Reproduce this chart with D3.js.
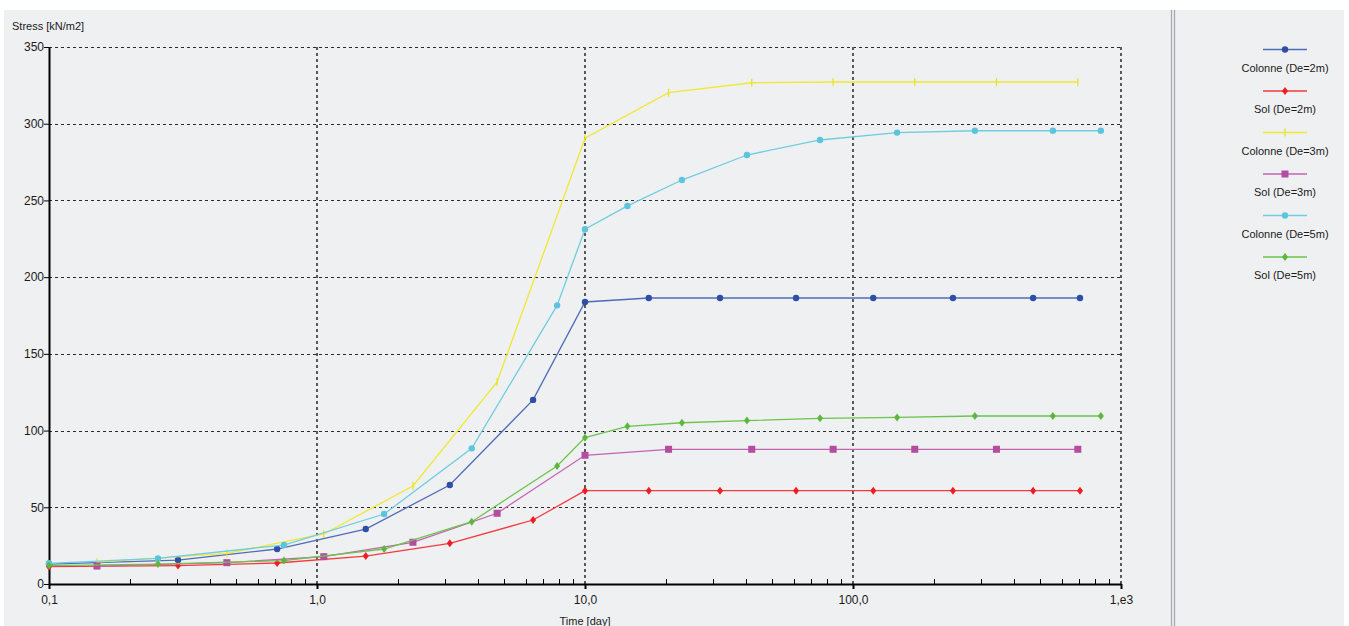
<!DOCTYPE html>
<html>
<head>
<meta charset="utf-8">
<script src="https://cdn.jsdelivr.net/npm/d3@7"></script>
<style>
  html, body { margin: 0; padding: 0; background: #ffffff; overflow: hidden; }
  svg { display: block; }
  text { font-family: "Liberation Sans", Arial, sans-serif; }
</style>
</head>
<body>
<svg id="chart" width="1349" height="626"></svg>
<script>
// Time samples (days) and stress values (kN/m2) for each curve
const timeDe2 = [0.1, 0.303, 0.71, 1.52, 3.13, 6.4, 10, 17.3, 31.9, 61.3, 119, 236, 470, 703];
const colonneDe2 = [13, 15.6, 22.8, 35.8, 64.5, 120, 183.8, 186.4, 186.4, 186.4, 186.4, 186.4, 186.4, 186.4];
const solDe2 = [11.3, 12, 13.7, 18.2, 26.5, 41.7, 60.8, 60.8, 60.8, 60.8, 60.8, 60.8, 60.8, 60.8];

const timeDe3 = [0.151, 0.461, 1.06, 2.28, 4.7, 10, 20.5, 41.9, 84.3, 170, 343, 690];
const colonneDe3 = [14.3, 20, 32.6, 63.9, 131.7, 290.5, 320.2, 326.7, 327.2, 327.2, 327.2, 327.2];
const solDe3 = [11.7, 13.9, 17.8, 27.2, 46.1, 83.9, 87.8, 87.8, 87.8, 87.8, 87.8, 87.8];

const timeDe5 = [0.1, 0.255, 0.753, 1.78, 3.78, 7.87, 10, 14.4, 23.0, 40.2, 75.3, 146, 285, 557, 841];
const colonneDe5 = [13.5, 16.7, 25.4, 45.6, 88.4, 181.6, 231.2, 246.4, 263.3, 279.6, 289.4, 294.2, 295.4, 295.4, 295.4];
const solDe5 = [12, 13, 15.3, 22.8, 40.6, 76.9, 95.4, 102.8, 105.1, 106.5, 108, 108.6, 109.5, 109.5, 109.5];

const xTickValues = [0.1, 1, 10, 100, 1000];
const xTickLabels = ["0,1", "1,0", "10,0", "100,0", "1,e3"];
const yTickValues = [0, 50, 100, 150, 200, 250, 300, 350];

const series = [
  { name: "Colonne (De=2m)", t: timeDe2, v: colonneDe2, color: "#2f4fa6", line: "#4f6cb8", marker: "circle" },
  { name: "Sol (De=2m)",     t: timeDe2, v: solDe2,     color: "#f01c24", line: "#f43a3e", marker: "diamond" },
  { name: "Colonne (De=3m)", t: timeDe3, v: colonneDe3, color: "#e8e020", line: "#f0e832", marker: "plus" },
  { name: "Sol (De=3m)",     t: timeDe3, v: solDe3,     color: "#b44ca0", line: "#c464b0", marker: "square" },
  { name: "Colonne (De=5m)", t: timeDe5, v: colonneDe5, color: "#5cc4dc", line: "#70cce0", marker: "circle" },
  { name: "Sol (De=5m)",     t: timeDe5, v: solDe5,     color: "#5cb83c", line: "#6cc44c", marker: "diamond" }
];

const svg = d3.select("#chart");
const W = 1349, H = 626;

// panel backgrounds
svg.append("rect").attr("x", 0).attr("y", 0).attr("width", W).attr("height", H).attr("fill", "#ffffff");
svg.append("rect").attr("x", 4).attr("y", 10).attr("width", 1340).attr("height", H - 10).attr("fill", "#eff0f2");
// splitter between plot and legend
svg.append("rect").attr("x", 1170).attr("y", 10).attr("width", 6).attr("height", H - 10).attr("fill", "#e4e5e8");
svg.append("line").attr("x1", 1171.5).attr("x2", 1171.5).attr("y1", 10).attr("y2", H).attr("stroke", "#a8a9ac").attr("stroke-width", 1);
svg.append("line").attr("x1", 1174.5).attr("x2", 1174.5).attr("y1", 10).attr("y2", H).attr("stroke", "#a8a9ac").attr("stroke-width", 1);

const plotLeft = 49, plotRight = 1121, plotTop = 47, plotBottom = 584;
const x = d3.scaleLog().domain([0.1, 1000]).range([plotLeft, plotRight]);
const y = d3.scaleLinear().domain([0, 350]).range([plotBottom, plotTop]);

// horizontal grid
svg.append("g").selectAll("line").data(yTickValues.filter(d => d > 0)).join("line")
  .attr("x1", plotLeft).attr("x2", plotRight)
  .attr("y1", d => Math.round(y(d)) + 0.5).attr("y2", d => Math.round(y(d)) + 0.5)
  .attr("stroke", "#2a2a2a").attr("stroke-width", 1).attr("stroke-dasharray", "3,3");

// vertical grid
svg.append("g").selectAll("line").data(xTickValues.filter(d => d > 0.1)).join("line")
  .attr("x1", d => Math.round(x(d))).attr("x2", d => Math.round(x(d)))
  .attr("y1", plotTop).attr("y2", plotBottom)
  .attr("stroke", "#5a5a5a").attr("stroke-width", 2).attr("stroke-dasharray", "3,3");

// x axis: major ticks with labels, minor ticks pointing up
const minorTicks = [];
for (let dec = 0.1; dec < 1000; dec *= 10) {
  for (let k = 2; k <= 9; k++) minorTicks.push(+(dec * k).toPrecision(3));
}
svg.append("g").selectAll("line").data(minorTicks).join("line")
  .attr("x1", d => Math.round(x(d)) + 0.5).attr("x2", d => Math.round(x(d)) + 0.5)
  .attr("y1", plotBottom - 5).attr("y2", plotBottom)
  .attr("stroke", "#000").attr("stroke-width", 1);

const xAxis = d3.axisBottom(x).tickValues(xTickValues)
  .tickFormat((d, i) => xTickLabels[i]).tickSize(5).tickSizeOuter(0);
const gx = svg.append("g").attr("transform", `translate(0,${plotBottom})`).call(xAxis);
gx.select(".domain").attr("stroke", "#000").attr("stroke-width", 2);
gx.selectAll(".tick line").attr("stroke", "#000").attr("stroke-width", 2);
gx.selectAll(".tick text").attr("font-size", 12).attr("fill", "#1a1a1a").attr("y", 11)
  .style("font-family", "'Liberation Sans', Arial, sans-serif");

// y axis
const yAxis = d3.axisLeft(y).tickValues(yTickValues).tickSize(5).tickSizeOuter(0);
const gy = svg.append("g").attr("transform", `translate(${plotLeft},0)`).call(yAxis);
gy.select(".domain").attr("stroke", "#000").attr("stroke-width", 2);
gy.selectAll(".tick line").attr("stroke", "#000").attr("stroke-width", 1);
gy.selectAll(".tick text").attr("font-size", 12).attr("fill", "#1a1a1a").attr("x", -5)
  .style("font-family", "'Liberation Sans', Arial, sans-serif");

// axis titles
svg.append("text").attr("x", 12).attr("y", 30).attr("font-size", 11).attr("fill", "#1a1a1a")
  .text("Stress [kN/m2]");
svg.append("text").attr("x", 585).attr("y", 625).attr("text-anchor", "middle").attr("font-size", 11).attr("fill", "#1a1a1a")
  .text("Time [day]");

// marker drawing
function drawMarker(g, type, color, cx, cy) {
  if (type === "circle") {
    g.append("circle").attr("cx", cx).attr("cy", cy).attr("r", 3.2).attr("fill", color);
  } else if (type === "square") {
    g.append("rect").attr("x", cx - 3.5).attr("y", cy - 3.5).attr("width", 7).attr("height", 7).attr("fill", color);
  } else if (type === "diamond") {
    g.append("path").attr("d", `M${cx},${cy - 4}L${cx + 3},${cy}L${cx},${cy + 4}L${cx - 3},${cy}Z`).attr("fill", color);
  } else if (type === "plus") {
    g.append("line").attr("x1", cx).attr("x2", cx).attr("y1", cy - 4).attr("y2", cy + 4)
      .attr("stroke", color).attr("stroke-width", 1.2);
  }
}

const line = d3.line().x(d => x(d[0])).y(d => y(d[1]));

series.forEach(s => {
  const pts = s.t.map((t, i) => [t, s.v[i]]);
  const g = svg.append("g");
  g.append("path").datum(pts).attr("d", line).attr("fill", "none")
    .attr("stroke", s.line).attr("stroke-width", 1.3);
  pts.forEach(p => drawMarker(g, s.marker, s.color, x(p[0]), y(p[1])));
});

// legend
const legend = svg.append("g");
series.forEach((s, i) => {
  const ly = 49.5 + i * 41.5;
  legend.append("line").attr("x1", 1263).attr("x2", 1307).attr("y1", ly).attr("y2", ly)
    .attr("stroke", s.line).attr("stroke-width", 1.3);
  drawMarker(legend, s.marker, s.color, 1285, ly);
  legend.append("text").attr("x", 1285).attr("y", ly + 22).attr("text-anchor", "middle")
    .attr("font-size", 11).attr("fill", "#1a1a1a").text(s.name);
});
</script>
</body>
</html>
